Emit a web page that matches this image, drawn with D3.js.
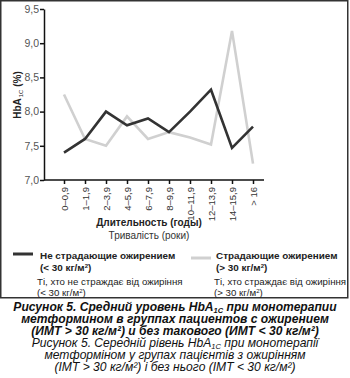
<!DOCTYPE html>
<html><head><meta charset="utf-8">
<script src="https://cdn.jsdelivr.net/npm/d3@7/dist/d3.min.js"></script>
<style>body{margin:0;background:#fff}svg{display:block}</style>
</head><body>
<svg id="c" width="350" height="378"></svg>
<script>
const categories = ["0–0,9","1–1,9","2–3,9","4–5,9","6–7,9","8–9,9","10–11,9","12–13,9","14–15,9","> 16"];
const nonObese = [7.4, 7.6, 8.0, 7.8, 7.9, 7.7, 8.0, 8.32, 7.47, 7.78];
const obese    = [8.25, 7.6, 7.5, 7.93, 7.6, 7.7, 7.62, 7.52, 9.18, 7.24];
const yTicks = [7.0, 7.5, 8.0, 8.5, 9.0, 9.5];

const svg = d3.select("#c");
const F = "'Liberation Sans', Arial, sans-serif";
const x = d3.scalePoint().domain(categories).range([64, 253]);
const y = d3.scaleLinear().domain([7, 9.5]).range([180, 9]);

// frame
svg.append("rect").attr("x",0.75).attr("y",0.75).attr("width",347).attr("height",297)
  .attr("fill","none").attr("stroke","#333").attr("stroke-width",1.5);

// y axis
const ya = svg.append("g").attr("transform","translate(44,0)")
  .call(d3.axisLeft(y).tickValues(yTicks).tickSize(4).tickSizeOuter(0)
    .tickFormat(d => d3.format(".1f")(d).replace(".", ",")));
ya.select(".domain").attr("stroke","#111").attr("stroke-width",1.5);
ya.selectAll(".tick line").attr("stroke","#111").attr("stroke-width",1.5);
ya.selectAll(".tick text").attr("font-family",F).attr("font-size",10.5).attr("fill","#555").attr("x",-5);

// x axis
const xa = svg.append("g").attr("transform","translate(0,180)")
  .call(d3.axisBottom(x).tickSize(4).tickSizeOuter(0));
xa.select(".domain").attr("d","M44,0H264").attr("stroke","#111").attr("stroke-width",1.5);
xa.selectAll(".tick line").attr("stroke","#111").attr("stroke-width",1.5);
xa.selectAll(".tick text").attr("font-family",F).attr("font-size",9.5).attr("fill","#333")
  .attr("transform","rotate(-90)").attr("text-anchor","end").attr("dy","0.35em").attr("x",-7).attr("y",0);

// lines
const line = d3.line().x((d,i)=>x(categories[i])).y(d=>y(d));
svg.append("path").datum(obese).attr("d",line).attr("fill","none")
  .attr("stroke","#d0d0d0").attr("stroke-width",2.6).attr("stroke-linejoin","miter");
svg.append("path").datum(nonObese).attr("d",line).attr("fill","none")
  .attr("stroke","#333").attr("stroke-width",2.6).attr("stroke-linejoin","miter");

// y title
const yt = svg.append("text").attr("transform","translate(21,95) rotate(-90)")
  .attr("text-anchor","middle").attr("font-family",F).attr("font-size",10).attr("font-weight","bold").attr("fill","#222");
yt.append("tspan").text("HbA");
yt.append("tspan").text("1C").attr("font-size",6).attr("font-weight","normal").attr("dy",2).attr("dx",1);
yt.append("tspan").text(" (%)").attr("dy",-2);

// x title
svg.append("text").attr("x",149).attr("y",226).attr("text-anchor","middle")
  .attr("font-family",F).attr("font-size",10).attr("font-weight","bold").attr("fill","#222").text("Длительность (годы)");
svg.append("text").attr("x",149).attr("y",239).attr("text-anchor","middle")
  .attr("font-family",F).attr("font-size",10).attr("fill","#333").text("Тривалість (роки)");

// legend
function legend(x0, sy, tx, nx, color, l1, l2, l3, l4){
  svg.append("line").attr("x1",x0).attr("x2",x0+20).attr("y1",sy).attr("y2",sy)
    .attr("stroke",color).attr("stroke-width",3);
  const t = (xx, yy, s, b) => svg.append("text").attr("x",xx).attr("y",yy).attr("font-family",F)
    .attr("font-size",b?9.9:9.7).attr("font-weight",b?"bold":"normal").attr("fill","#222").text(s);
  t(tx, 259, l1, true);
  const a = t(tx, 271, "", true);
  a.append("tspan").text(l2);
  a.append("tspan").text("2").attr("font-size",6).attr("dy",-3);
  a.append("tspan").text(")").attr("dy",3);
  t(nx, 285, l3, false);
  const b = t(nx, 296, "", false);
  b.append("tspan").text(l4);
  b.append("tspan").text("2").attr("font-size",6).attr("dy",-3);
  b.append("tspan").text(")").attr("dy",3);
}
legend(13, 254, 40, 37, "#333", "Не страдающие ожирением", "(< 30 кг/м", "Ті, хто не страждає від ожиріння", "(< 30 кг/м");
legend(191, 258, 216, 214, "#d0d0d0", "Страдающие ожирением", "(> 30 кг/м", "Ті, хто страждає від ожиріння", "(> 30 кг/м");

// caption
function cap(yy, parts, bold){
  const t = svg.append("text").attr("x",175).attr("y",yy).attr("text-anchor","middle")
    .attr("font-family",F).attr("font-size",12.1).attr("font-style","italic")
    .attr("font-weight",bold?"bold":"normal").attr("fill","#111");
  parts.forEach(p => {
    const s = t.append("tspan").text(p[0]);
    if (p[2]) s.attr("font-size",7.5);
    if (p[1]) s.attr("dy",p[1]);
  });
}
cap(311, [["Рисунок 5. Средний уровень HbA"],["1C",2,true],[" при монотерапии",-2]], true);
cap(323, [["метформином в группах пациентов с ожирением"]], true);
cap(335, [["(ИМТ > 30 кг/м²) и без такового (ИМТ < 30 кг/м²)"]], true);
cap(347, [["Рисунок 5. Середній рівень HbA"],["1C",2,true],[" при монотерапії",-2]], false);
cap(359, [["метформіном у групах пацієнтів з ожирінням"]], false);
cap(371, [["(ІМТ > 30 кг/м²) і без нього (ІМТ < 30 кг/м²)"]], false);
</script>
</body></html>
